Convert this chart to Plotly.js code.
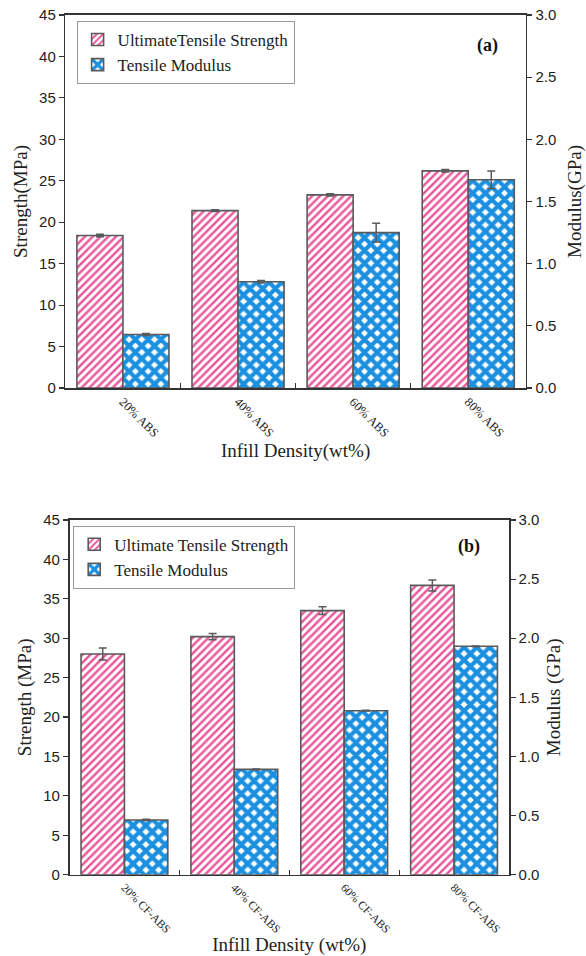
<!DOCTYPE html>
<html>
<head>
<meta charset="utf-8">
<script src="https://cdn.plot.ly/plotly-3.0.1.min.js"></script>
<style>html,body{margin:0;padding:0;background:#fff;}#chart{width:586px;height:956px;}</style>
</head>
<body>
<div id="chart"></div>
<script>
// ---- Data ----
var categoriesA = ['20% ABS', '40% ABS', '60% ABS', '80% ABS'];
var strengthA = [18.4, 21.4, 23.3, 26.2];
var strengthErrA = [0.16, 0.1, 0.15, 0.15];
var modulusA = [0.43, 0.855, 1.25, 1.675];
var modulusErrA = [0.008, 0.01, 0.075, 0.07];

var categoriesB = ['20% CF-ABS', '40% CF-ABS', '60% CF-ABS', '80% CF-ABS'];
var strengthB = [28.0, 30.2, 33.5, 36.7];
var strengthErrB = [0.75, 0.4, 0.5, 0.7];
var modulusB = [0.463, 0.891, 1.387, 1.932];
var modulusErrB = [0.005, 0.004, 0.003, 0.003];

var nameStrengthA = 'UltimateTensile Strength';
var nameStrengthB = 'Ultimate Tensile Strength';
var nameModulus = 'Tensile Modulus';

// ---- Styles ----
var serif = 'Liberation Serif, Times New Roman, serif';
var sans = 'Liberation Sans, Arial, sans-serif';
var pink = '#e9559b';
var blue = '#1b8fe0';
var edge = '#5a5a5a';
var axisCol = '#333333';

function pinkBar(x, y, err, name, xa, ya, legend, w) {
  return {
    type: 'bar', x: x, y: y, name: name, xaxis: xa, yaxis: ya, legend: legend,
    width: w, offset: -w,
    marker: {color: 'white', line: {color: edge, width: 1.6},
      pattern: {shape: '/', fgcolor: pink, bgcolor: 'white', size: 5.5, solidity: 0.45, fillmode: 'replace'}},
    error_y: {type: 'data', array: err, visible: true, color: edge, thickness: 1.5, width: 4}
  };
}
function blueBar(x, y, err, name, xa, ya, legend, w) {
  return {
    type: 'bar', x: x, y: y, name: name, xaxis: xa, yaxis: ya, legend: legend,
    width: w, offset: 0,
    marker: {color: 'white', line: {color: edge, width: 1.6},
      pattern: {shape: 'x', fgcolor: blue, bgcolor: 'white', size: 9, solidity: 0.72, fillmode: 'replace'}},
    error_y: {type: 'data', array: err, visible: true, color: edge, thickness: 1.5, width: 4}
  };
}

var data = [
  pinkBar(categoriesA, strengthA, strengthErrA, nameStrengthA, 'x', 'y', 'legend', 0.4),
  blueBar(categoriesA, modulusA, modulusErrA, nameModulus, 'x', 'y2', 'legend', 0.4),
  pinkBar(categoriesB, strengthB, strengthErrB, nameStrengthB, 'x2', 'y3', 'legend2', 0.395),
  blueBar(categoriesB, modulusB, modulusErrB, nameModulus, 'x2', 'y4', 'legend2', 0.395)
];

var W = 586, H = 956;
function px(x){return x / W;}
function py(y){return 1 - y / H;}

function xAxis(domain, anchor, fs) {
  return {
    domain: domain, anchor: anchor, type: 'category',
    showline: true, linecolor: axisCol, linewidth: 1.6, mirror: true,
    ticks: 'inside', tickson: 'boundaries', ticklen: 5, tickcolor: axisCol, tickwidth: 1.2,
    tickangle: 45, tickfont: {family: serif, size: fs, color: '#222'},
    showgrid: false, zeroline: false, automargin: false, fixedrange: true
  };
}
function yLeft(domain, anchor, title, standoff) {
  return {
    domain: domain, anchor: anchor, range: [0, 45], dtick: 5, tick0: 0,
    showline: true, linecolor: axisCol, linewidth: 1.6,
    ticks: 'outside', ticklen: 5, tickcolor: axisCol, tickwidth: 1.2,
    tickfont: {family: sans, size: 15, color: '#222'},
    title: {text: title, font: {family: serif, size: 19, color: '#222'}, standoff: standoff},
    showgrid: false, zeroline: false, automargin: false
  };
}
function yRight(domain, anchor, overlay, title, standoff) {
  return {
    domain: domain, anchor: anchor, overlaying: overlay, side: 'right', range: [0, 3], dtick: 0.5, tick0: 0,
    tickformat: '.1f',
    showline: true, linecolor: axisCol, linewidth: 1.6,
    ticks: 'outside', ticklen: 5, tickcolor: axisCol, tickwidth: 1.2,
    tickfont: {family: sans, size: 15, color: '#222'},
    title: {text: title, font: {family: serif, size: 19, color: '#222'}, standoff: standoff},
    showgrid: false, zeroline: false, automargin: false
  };
}

var domXA = [px(65.4), px(525.8)];
var domYA = [py(388), py(15)];
var domXB = [px(69.5), px(509)];
var domYB = [py(874.7), py(520)];

var legendStyle = {xanchor: 'left', yanchor: 'top',
    bordercolor: '#9a9a9a', borderwidth: 1, bgcolor: 'white',
    font: {family: serif, size: 17, color: '#222'}, tracegroupgap: 0, itemwidth: 30};

var layout = {
  width: W, height: H,
  margin: {l: 0, r: 0, t: 0, b: 0},
  paper_bgcolor: 'white', plot_bgcolor: 'white',
  barmode: 'overlay',
  showlegend: true,
  xaxis: Object.assign(xAxis(domXA, 'y', 12.5), {title: {text: 'Infill Density(wt%)', font: {family: serif, size: 19, color: '#222'}, standoff: 4}}),
  yaxis: yLeft(domYA, 'x', 'Strength(MPa)', 6),
  yaxis2: yRight(domYA, 'x', 'y', 'Modulus(GPa)', 12),
  xaxis2: Object.assign(xAxis(domXB, 'y3', 11.5), {title: {text: 'Infill Density (wt%)', font: {family: serif, size: 19, color: '#222'}, standoff: 4}}),
  yaxis3: yLeft(domYB, 'x2', 'Strength (MPa)', 6),
  yaxis4: yRight(domYB, 'x2', 'y3', 'Modulus (GPa)', 8),
  legend: Object.assign({x: px(76.6), y: py(21)}, legendStyle),
  legend2: Object.assign({x: px(73.2), y: py(525.7)}, legendStyle),
  annotations: [
    {text: '<b>(a)</b>', x: px(500), y: py(33), xref: 'paper', yref: 'paper', showarrow: false,
     font: {family: serif, size: 18, color: '#111'}},
    {text: '<b>(b)</b>', x: px(482), y: py(546), xref: 'paper', yref: 'paper', showarrow: false,
     font: {family: serif, size: 18, color: '#111'}}
  ]
};

Plotly.newPlot('chart', data, layout, {displayModeBar: false, staticPlot: true});
</script>
</body>
</html>
